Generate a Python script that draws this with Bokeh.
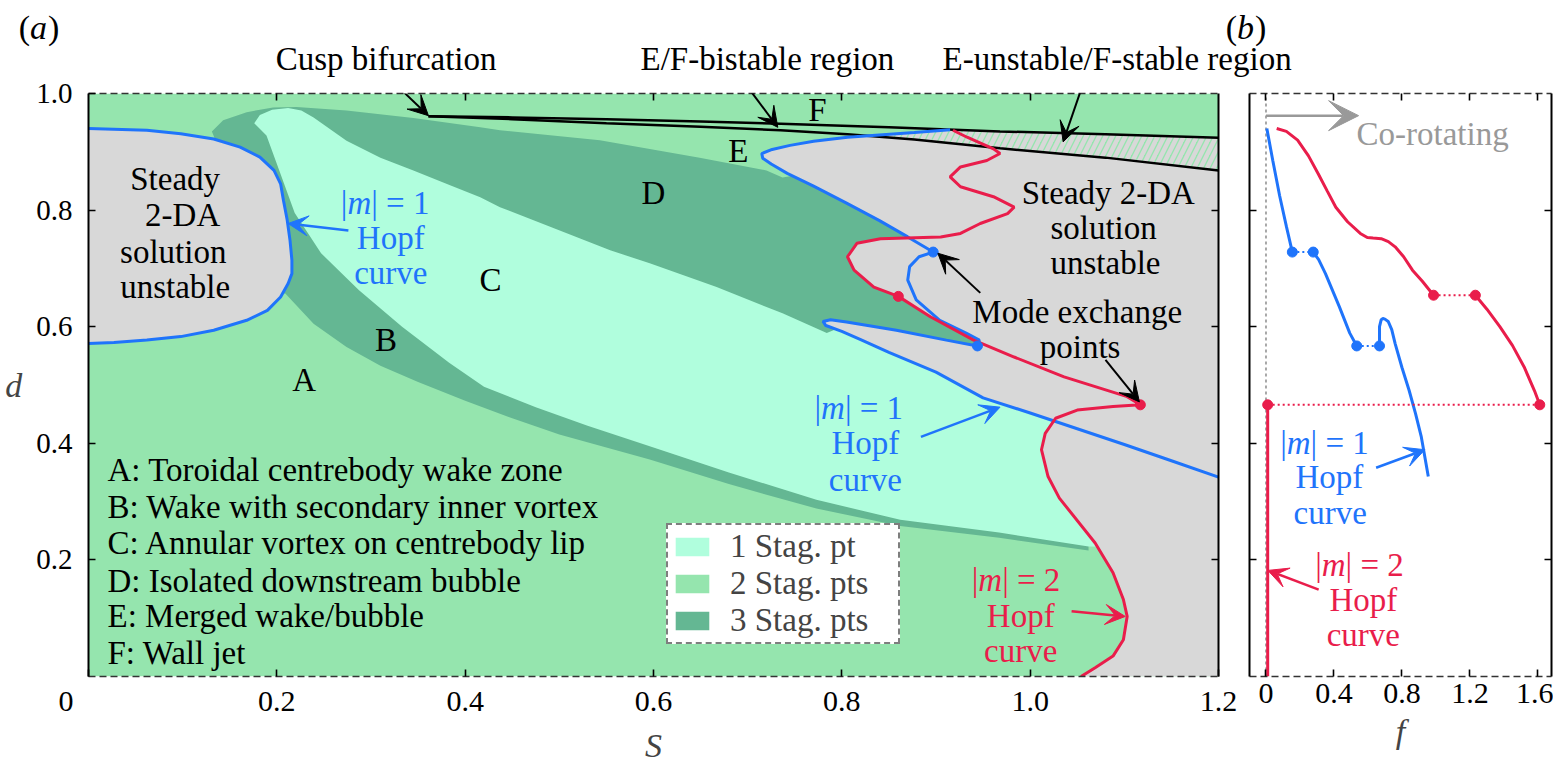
import numpy as np
from bokeh.plotting import figure
from bokeh.models import (Range1d, LinearAxis, FixedTicker, Label, Arrow, VeeHead,
                          Legend, LegendItem, PrintfTickFormatter)
from bokeh.layouts import row, column
from bokeh.embed import file_html
from bokeh.resources import INLINE

FONT = "Liberation Serif"
FS = 33
LIGHT_GREEN = "#95e5ae"
CYAN = "#b0fedd"
DARK_GREEN = "#64b793"
GREY = "#d8d8d8"
BLUE = "#1f74fb"
RED = "#e91d4b"

# ---------------- panel (a) data : (S, d) ----------------
S_MIN, S_MAX = 0.0, 1.2
D_MIN, D_MAX = 0.0, 1.0

# left |m|=1 Hopf lobe (steady solution unstable inside)
lobe_S = [0.000, 0.062, 0.098, 0.133, 0.161, 0.182, 0.197, 0.204, 0.207, 0.211, 0.214, 0.216,
          0.216, 0.212, 0.204, 0.190, 0.168, 0.133, 0.098, 0.062, 0.027, 0.000]
lobe_d = [0.940, 0.937, 0.931, 0.922, 0.908, 0.891, 0.868, 0.845, 0.817, 0.783, 0.748, 0.714,
          0.691, 0.674, 0.651, 0.628, 0.611, 0.594, 0.583, 0.577, 0.573, 0.571]

# main |m|=1 Hopf curve
blue_S = [0.915, 0.877, 0.806, 0.770, 0.745, 0.726, 0.715, 0.716, 0.725, 0.742, 0.770, 0.805,
          0.840, 0.870, 0.897, 0.882, 0.872, 0.870, 0.879, 0.904, 0.932, 0.946, 0.944,
          0.911, 0.858, 0.805, 0.788, 0.780, 0.783, 0.800, 0.820, 0.850, 0.900, 0.950,
          1.000, 1.050, 1.100, 1.150, 1.200]
blue_d = [0.938, 0.933, 0.925, 0.918, 0.911, 0.904, 0.897, 0.889, 0.879, 0.863, 0.841, 0.812,
          0.782, 0.754, 0.728, 0.720, 0.703, 0.680, 0.646, 0.611, 0.589, 0.577, 0.567,
          0.577, 0.594, 0.608, 0.612, 0.609, 0.602, 0.592, 0.578, 0.556, 0.522, 0.478,
          0.452, 0.425, 0.398, 0.370, 0.342]

# |m|=2 Hopf curve
red_S = [0.918, 0.933, 0.961, 0.968, 0.954, 0.926, 0.915, 0.926, 0.961, 0.983, 0.976, 0.947,
         0.926, 0.905, 0.841, 0.816, 0.806, 0.813, 0.834, 0.860, 0.894, 0.940, 0.983, 1.036,
         1.103, 1.117, 1.088, 1.050, 1.027, 1.016, 1.012, 1.019, 1.031, 1.069, 1.088, 1.099,
         1.103, 1.099, 1.088, 1.069, 1.054]
red_d = [0.937, 0.925, 0.905, 0.897, 0.885, 0.874, 0.857, 0.840, 0.823, 0.805, 0.794, 0.777,
         0.760, 0.754, 0.751, 0.743, 0.720, 0.697, 0.668, 0.652, 0.617, 0.577, 0.548, 0.514,
         0.480, 0.466, 0.463, 0.457, 0.443, 0.417, 0.389, 0.343, 0.306, 0.229, 0.178, 0.132,
         0.103, 0.063, 0.035, 0.015, 0.000]

# mode exchange points
red_dot_S, red_dot_d = [0.860, 1.117], [0.652, 0.466]
blue_dot_S, blue_dot_d = [0.897, 0.944], [0.728, 0.567]

# fold lines from the cusp
upper_S = [0.361, 0.450, 0.550, 0.650, 0.735, 0.850, 0.968, 1.080, 1.200]
upper_d = [0.961, 0.959, 0.956, 0.952, 0.948, 0.942, 0.935, 0.930, 0.924]
lower_S = [0.361, 0.450, 0.550, 0.650, 0.735, 0.806, 0.877, 0.968, 1.080, 1.200]
lower_d = [0.961, 0.956, 0.949, 0.943, 0.937, 0.930, 0.921, 0.906, 0.890, 0.868]
hatch_left_S = 0.835

# region with 3 stagnation points (B and D)
three_S = [0.140, 0.131, 0.143, 0.168, 0.196, 0.221, 0.274, 0.345, 0.416, 0.437, 0.543, 0.649,
           0.720, 0.737, 0.760, 0.900, 1.000, 1.070, 1.075, 1.062,
           1.062, 0.967, 0.862, 0.773, 0.680, 0.596, 0.500, 0.450, 0.400, 0.350, 0.310,
           0.274, 0.239, 0.209, 0.150]
three_d = [0.900, 0.935, 0.954, 0.968, 0.976, 0.977, 0.971, 0.958, 0.942, 0.937, 0.920, 0.890,
           0.868, 0.856, 0.862, 0.850, 0.600, 0.450, 0.300, 0.223,
           0.216, 0.238, 0.258, 0.288, 0.330, 0.372, 0.415, 0.443, 0.473, 0.505, 0.533,
           0.565, 0.605, 0.657, 0.650]

# region with 1 stagnation point (C)
one_S = [0.176, 0.182, 0.195, 0.212, 0.226, 0.239, 0.274, 0.310, 0.345, 0.380, 0.416, 0.437,
         0.554, 0.596, 0.667, 0.737, 0.784, 0.800, 0.900, 1.000, 1.150, 1.150,
         1.062, 0.967, 0.862, 0.773, 0.680, 0.596, 0.530, 0.475, 0.420, 0.383, 0.333,
         0.287, 0.247, 0.219, 0.205, 0.189]
one_d = [0.949, 0.963, 0.972, 0.975, 0.971, 0.959, 0.919, 0.890, 0.868, 0.845, 0.822, 0.805,
         0.731, 0.709, 0.668, 0.623, 0.589, 0.600, 0.570, 0.520, 0.450, 0.220,
         0.223, 0.247, 0.269, 0.303, 0.350, 0.395, 0.430, 0.462, 0.497, 0.538, 0.600,
         0.663, 0.726, 0.795, 0.857, 0.928]

region_lines = ["A: Toroidal centrebody wake zone",
                "B: Wake with secondary inner vortex",
                "C: Annular vortex on centrebody lip",
                "D: Isolated downstream bubble",
                "E: Merged wake/bubble",
                "F: Wall jet"]
region_line_d = [0.354, 0.291, 0.229, 0.163, 0.103, 0.041]
legend_labels = ["1 Stag. pt", "2 Stag. pts", "3 Stag. pts"]
xa_ticks = [0.0, 0.2, 0.4, 0.6, 0.8, 1.0, 1.2]
ya_ticks = [0.2, 0.4, 0.6, 0.8, 1.0]

# ---------------- panel (b) data : (f, d) ----------------
F_MIN, F_MAX = -0.097, 1.68
b_blue1_f = [0.005, 0.040, 0.080, 0.120, 0.155]
b_blue1_d = [0.940, 0.885, 0.825, 0.772, 0.728]
b_blue2_f = [0.278, 0.310, 0.350, 0.432, 0.493, 0.534]
b_blue2_d = [0.728, 0.715, 0.691, 0.634, 0.589, 0.567]
b_blue3_f = [0.668, 0.668, 0.678, 0.688, 0.700, 0.719, 0.740, 0.760, 0.800, 0.842, 0.880, 0.914, 0.955]
b_blue3_d = [0.567, 0.600, 0.612, 0.614, 0.613, 0.609, 0.595, 0.571, 0.530, 0.491, 0.451, 0.411, 0.343]
b_blue_dot_f = [0.155, 0.278, 0.534, 0.668]
b_blue_dot_d = [0.728, 0.728, 0.567, 0.567]

b_red1_f = [0.063, 0.120, 0.186, 0.250, 0.308, 0.360, 0.411, 0.480, 0.555, 0.596, 0.630, 0.678,
            0.720, 0.760, 0.810, 0.862, 0.920, 0.986]
b_red1_d = [0.940, 0.935, 0.920, 0.893, 0.862, 0.833, 0.805, 0.780, 0.760, 0.753, 0.752, 0.751,
            0.746, 0.737, 0.720, 0.697, 0.678, 0.654]
b_red2_f = [1.232, 1.300, 1.376, 1.450, 1.519, 1.580, 1.611]
b_red2_d = [0.654, 0.630, 0.600, 0.568, 0.531, 0.490, 0.466]
b_red3_f = [0.010, 0.010]
b_red3_d = [0.000, 0.466]
b_red_dot_f = [0.986, 1.232, 0.010, 1.611]
b_red_dot_d = [0.654, 0.654, 0.466, 0.466]
xb_ticks = [0.0, 0.4, 0.8, 1.2, 1.6]
yb_ticks = [0.2, 0.4, 0.6, 0.8]

# ---------------- layout (page pixels) ----------------
HEAD_H = 77
A_LEFT, A_RIGHT = 88, 1218
FRAME_TOP, FRAME_BOTTOM = 93, 677
A_W = 1243
B_W = 310
TOTAL_W = A_W + B_W
PANEL_H = 766 - HEAD_H


def sa(px):
    return S_MIN + (px - A_LEFT) * (S_MAX - S_MIN) / (A_RIGHT - A_LEFT)


def dp(py):
    return D_MIN + (FRAME_BOTTOM - py) * (D_MAX - D_MIN) / (FRAME_BOTTOM - FRAME_TOP)


# ---------------- helpers ----------------
def style_axis(ax, ticks, dashed, labels=True, standoff=6, size="30px"):
    ax.ticker = FixedTicker(ticks=ticks)
    ax.major_tick_in = 7
    ax.major_tick_out = 0
    ax.minor_tick_line_color = None
    ax.major_tick_line_color = "black"
    ax.major_tick_line_width = 1.6
    if dashed:
        ax.axis_line_color = "#333333"
        ax.axis_line_width = 1.6
        ax.axis_line_dash = "7 4"
    else:
        ax.axis_line_color = "black"
        ax.axis_line_width = 2
    if labels:
        ax.major_label_text_font = FONT
        ax.major_label_text_font_size = size
        ax.major_label_text_color = "black"
        ax.major_label_standoff = standoff
        ax.formatter = PrintfTickFormatter(format="%.1f")
    else:
        ax.major_label_text_color = None
        ax.major_label_text_font_size = "0px"
        ax.major_label_standoff = 0


def add_text(fig, x, y, text, color="black", size=FS, align="center", style="normal", x_offset=0):
    fig.add_layout(Label(x=x, y=y, text=text, text_font=FONT, text_font_size=f"{size}px",
                         text_color=color, text_align=align, text_baseline="middle",
                         text_font_style=style, x_offset=x_offset))


def add_m_label(fig, x, y, n, color):
    w_bar, w_m, w_rest = 0.2 * FS, 0.722 * FS, 1.764 * FS
    x0 = -(w_bar + w_m + w_rest) / 2
    add_text(fig, x, y, "|", color, align="left", x_offset=x0)
    add_text(fig, x, y, "m", color, align="left", style="italic", x_offset=x0 + w_bar)
    add_text(fig, x, y, "| = %d" % n, color, align="left", x_offset=x0 + w_bar + w_m)


def add_panel_tag(fig, x, y, letter, size=34):
    w_p, w_l = 0.333 * size, 0.5 * size
    x0 = -(2 * w_p + w_l) / 2
    add_text(fig, x, y, "(", size=size, align="left", x_offset=x0)
    add_text(fig, x, y, letter, size=size, align="left", style="italic", x_offset=x0 + w_p)
    add_text(fig, x, y, ")", size=size, align="left", x_offset=x0 + w_p + w_l + 1)


def add_arrow(fig, xs, ys, xe, ye, color, size=20, width=2):
    fig.add_layout(Arrow(end=VeeHead(size=size, fill_color=color, line_color=color, line_width=1),
                         x_start=xs, y_start=ys, x_end=xe, y_end=ye,
                         line_color=color, line_width=width))


# ---------------- header strip (texts above the frames) ----------------
head = figure(width=TOTAL_W, height=HEAD_H, x_range=Range1d(sa(0), sa(TOTAL_W)),
              y_range=Range1d(dp(HEAD_H), dp(0)), x_axis_type=None, y_axis_type=None,
              output_backend="svg", toolbar_location=None,
              min_border_left=0, min_border_right=0, min_border_top=0, min_border_bottom=0)
head.outline_line_color = None
head.grid.visible = False
TOP_TEXT_D = dp(58.5)
add_panel_tag(head, sa(38), dp(27), "a")
add_panel_tag(head, sa(1245), dp(27), "b")
add_text(head, 0.316, TOP_TEXT_D, "Cusp bifurcation")
add_text(head, 0.721, TOP_TEXT_D, "E/F-bistable region")
add_text(head, sa(942), TOP_TEXT_D, "E-unstable/F-stable region", align="left")

# ---------------- panel (a) ----------------
pa = figure(width=A_W, height=PANEL_H, x_range=Range1d(S_MIN, S_MAX), y_range=Range1d(D_MIN, D_MAX),
            output_backend="svg", toolbar_location=None,
            min_border_left=A_LEFT, min_border_right=A_W - A_RIGHT,
            min_border_top=FRAME_TOP - HEAD_H, min_border_bottom=PANEL_H - (FRAME_BOTTOM - HEAD_H))
pa.outline_line_color = None
pa.grid.visible = False
pa.background_fill_color = "white"

r_two = pa.quad(left=[S_MIN], right=[S_MAX], bottom=[D_MIN], top=[D_MAX],
                fill_color=LIGHT_GREEN, line_color=None)
r_three = pa.patch(three_S, three_d, fill_color=DARK_GREEN, line_color=None)
r_one = pa.patch(one_S, one_d, fill_color=CYAN, line_color=None)

# unstable regions
pa.patch(lobe_S, lobe_d, fill_color=GREY, line_color=None)
gb_S = blue_S + [u for u in reversed(upper_S) if u > blue_S[0]]
gb_d = blue_d + [v for u, v in zip(reversed(upper_S), reversed(upper_d)) if u > blue_S[0]]
pa.patch(gb_S, gb_d, fill_color=GREY, line_color=None)
gr_S = red_S + [S_MAX] + [u for u in reversed(upper_S) if u > red_S[0]]
gr_d = red_d + [D_MIN] + [v for u, v in zip(reversed(upper_S), reversed(upper_d)) if u > red_S[0]]
pa.patch(gr_S, gr_d, fill_color=GREY, line_color=None)

# E-unstable / F-stable hatched band
h_S = [hatch_left_S] + [s for s in blue_S[:2][::-1] if s > hatch_left_S]
h_d = [float(np.interp(hatch_left_S, lower_S, lower_d))] + \
      [d for s, d in zip(blue_S[:2][::-1], blue_d[:2][::-1]) if s > hatch_left_S]
h_S += [u for u in upper_S if u > blue_S[0]]
h_d += [v for u, v in zip(upper_S, upper_d) if u > blue_S[0]]
h_S += [u for u in reversed(lower_S) if u > hatch_left_S]
h_d += [v for u, v in zip(reversed(lower_S), reversed(lower_d)) if u > hatch_left_S]
pa.patch(h_S, h_d, fill_color=LIGHT_GREEN, line_color=None,
         hatch_pattern="/", hatch_color=GREY, hatch_weight=4.5, hatch_scale=13)

# fold lines
pa.line(upper_S, upper_d, line_color="black", line_width=2.5)
pa.line(lower_S, lower_d, line_color="black", line_width=2.5)

# Hopf curves
pa.line(lobe_S, lobe_d, line_color=BLUE, line_width=3)
pa.line(blue_S, blue_d, line_color=BLUE, line_width=3)
pa.line(red_S, red_d, line_color=RED, line_width=3)
pa.scatter(red_dot_S, red_dot_d, size=10, fill_color=RED, line_color=RED)
pa.scatter(blue_dot_S, blue_dot_d, size=10, fill_color=BLUE, line_color=BLUE)

# axes
xa = pa.xaxis[0]
style_axis(xa, xa_ticks, dashed=True, standoff=7)
xa.major_label_overrides = {0: "0\u2002\u2002\u2002"}
xa.axis_label = "S"
xa.axis_label_text_font = FONT
xa.axis_label_text_font_style = "italic"
xa.axis_label_text_font_size = "34px"
xa.axis_label_standoff = 7
ya = pa.yaxis[0]
style_axis(ya, ya_ticks, dashed=False, standoff=16, size="29px")
ya.axis_label = "d"
ya.axis_label_text_font = FONT
ya.axis_label_text_font_style = "italic"
ya.axis_label_text_font_size = "34px"
ya.axis_label_standoff = 11
try:
    ya.axis_label_orientation = "horizontal"
except Exception:
    pass
top_a = LinearAxis()
style_axis(top_a, xa_ticks[1:-1], dashed=True, labels=False)
pa.add_layout(top_a, "above")
right_a = LinearAxis()
style_axis(right_a, ya_ticks[:-1], dashed=False, labels=False)
pa.add_layout(right_a, "right")

# legend
legend = Legend(items=[LegendItem(label=legend_labels[0], renderers=[r_one]),
                       LegendItem(label=legend_labels[1], renderers=[r_two]),
                       LegendItem(label=legend_labels[2], renderers=[r_three])],
                location=(578, 32), orientation="vertical",
                label_text_font=FONT, label_text_font_size="33px", label_text_baseline="middle",
                glyph_width=42, glyph_height=23, label_standoff=17, label_width=165,
                spacing=0, padding=3, margin=0,
                border_line_color="black", border_line_width=2, border_line_dash="3 2",
                background_fill_color="white", background_fill_alpha=1.0)
pa.add_layout(legend, "center")

# arrows from the header texts (start at the frame edge)
add_arrow(pa, 0.335, 1.002, 0.361, 0.962, "black")
add_arrow(pa, 0.701, 1.009, 0.732, 0.942, "black")
add_arrow(pa, 1.055, 1.011, 1.035, 0.917, "black")

for t, x, y in [("F", 0.774, 0.971), ("E", 0.690, 0.902), ("D", 0.600, 0.829),
                ("C", 0.427, 0.680), ("B", 0.316, 0.577), ("A", 0.229, 0.509)]:
    add_text(pa, x, y, t)

for t, x, y in [("Steady", 0.092, 0.854), ("2-DA", 0.100, 0.791),
                ("solution", 0.090, 0.728), ("unstable", 0.092, 0.668)]:
    add_text(pa, x, y, t)
for t, x, y in [("Steady 2-DA", 1.083, 0.830), ("solution", 1.078, 0.769), ("unstable", 1.080, 0.709)]:
    add_text(pa, x, y, t)

add_m_label(pa, 0.315, 0.813, 1, BLUE)
add_text(pa, 0.321, 0.753, "Hopf", BLUE)
add_text(pa, 0.321, 0.692, "curve", BLUE)
add_arrow(pa, 0.276, 0.765, 0.212, 0.777, BLUE, width=2.5)

add_m_label(pa, 0.818, 0.461, 1, BLUE)
add_text(pa, 0.825, 0.401, "Hopf", BLUE)
add_text(pa, 0.825, 0.337, "curve", BLUE)
add_arrow(pa, 0.884, 0.411, 0.968, 0.462, BLUE, width=2.5)

add_m_label(pa, 0.985, 0.166, 2, RED)
add_text(pa, 0.990, 0.103, "Hopf", RED)
add_text(pa, 0.990, 0.043, "curve", RED)
add_arrow(pa, 1.044, 0.112, 1.101, 0.103, RED, width=2.5)

add_text(pa, 1.050, 0.625, "Mode exchange")
add_text(pa, 1.053, 0.565, "points")
add_arrow(pa, 0.947, 0.658, 0.902, 0.726, "black")
add_arrow(pa, 1.080, 0.543, 1.116, 0.471, "black")

for t, yv in zip(region_lines, region_line_d):
    add_text(pa, sa(107), yv, t, align="left")

# ---------------- panel (b) ----------------
pb = figure(width=B_W, height=PANEL_H, x_range=Range1d(F_MIN, F_MAX), y_range=Range1d(D_MIN, D_MAX),
            output_backend="svg", toolbar_location=None,
            min_border_left=6, min_border_right=2,
            min_border_top=FRAME_TOP - HEAD_H, min_border_bottom=PANEL_H - (FRAME_BOTTOM - HEAD_H))
pb.outline_line_color = None
pb.grid.visible = False
pb.background_fill_color = "white"

pb.line([0.0, 0.0], [D_MIN, D_MAX], line_color="#8c8c8c", line_width=1.5, line_dash="3 3")
pb.line(b_blue1_f, b_blue1_d, line_color=BLUE, line_width=3)
pb.line(b_blue2_f, b_blue2_d, line_color=BLUE, line_width=3)
pb.line(b_blue3_f, b_blue3_d, line_color=BLUE, line_width=3)
pb.line(b_blue_dot_f[0:2], b_blue_dot_d[0:2], line_color=BLUE, line_width=2, line_dash="2 3")
pb.line(b_blue_dot_f[2:4], b_blue_dot_d[2:4], line_color=BLUE, line_width=2, line_dash="2 3")
pb.line(b_red1_f, b_red1_d, line_color=RED, line_width=3)
pb.line(b_red2_f, b_red2_d, line_color=RED, line_width=3)
pb.line(b_red3_f, b_red3_d, line_color=RED, line_width=3)
pb.line(b_red_dot_f[0:2], b_red_dot_d[0:2], line_color=RED, line_width=2, line_dash="2 3")
pb.line(b_red_dot_f[2:4], b_red_dot_d[2:4], line_color=RED, line_width=2, line_dash="2 3")
pb.scatter(b_blue_dot_f, b_blue_dot_d, size=10, fill_color=BLUE, line_color=BLUE)
pb.scatter(b_red_dot_f, b_red_dot_d, size=10, fill_color=RED, line_color=RED)

xb = pb.xaxis[0]
style_axis(xb, xb_ticks, dashed=True, standoff=7)
xb.major_label_overrides = {0: "0"}
xb.axis_label = "f"
xb.axis_label_text_font = FONT
xb.axis_label_text_font_style = "italic"
xb.axis_label_text_font_size = "34px"
xb.axis_label_standoff = 7
style_axis(pb.yaxis[0], yb_ticks, dashed=False, labels=False)
top_b = LinearAxis()
style_axis(top_b, xb_ticks, dashed=True, labels=False)
pb.add_layout(top_b, "above")
right_b = LinearAxis()
style_axis(right_b, yb_ticks, dashed=False, labels=False)
pb.add_layout(right_b, "right")

add_arrow(pb, 0.0, 0.962, 0.545, 0.962, "#999999", size=30, width=2.5)
add_text(pb, 0.533, 0.931, "Co-rotating", "#999999", align="left")
add_m_label(pb, 0.344, 0.400, 1, BLUE)
add_text(pb, 0.373, 0.343, "Hopf", BLUE)
add_text(pb, 0.378, 0.280, "curve", BLUE)
add_arrow(pb, 0.648, 0.358, 0.935, 0.389, BLUE, width=2.5)
add_m_label(pb, 0.550, 0.192, 2, RED)
add_text(pb, 0.573, 0.132, "Hopf", RED)
add_text(pb, 0.573, 0.072, "curve", RED)
add_arrow(pb, 0.310, 0.149, 0.011, 0.182, RED, width=2.5)

layout = column(head, row(pa, pb))
open("out.html", "w").write(file_html(layout, INLINE))
